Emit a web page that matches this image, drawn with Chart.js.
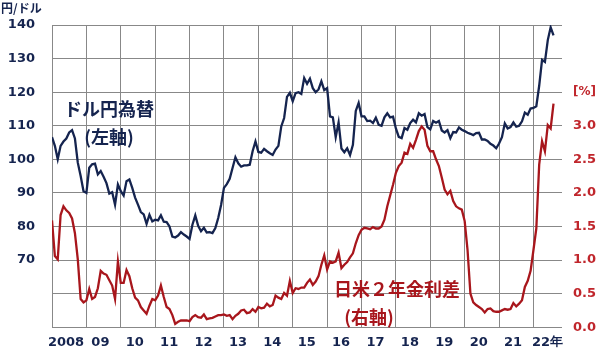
<!DOCTYPE html>
<html>
<head>
<meta charset="utf-8">
<script src="https://cdn.jsdelivr.net/npm/chart.js@4.4.0/dist/chart.umd.min.js"></script>
<style>
  html, body { margin: 0; padding: 0; background: #fff; }
  #wrap { width: 600px; height: 352px; }
</style>
</head>
<body>
<div id="wrap"><canvas id="fxChart" width="600" height="352"></canvas></div>
<script>
// monthly data, Jan 2008 - Aug 2022
const startYear = 2008;
const yearTicks = [2008, 2009, 2010, 2011, 2012, 2013, 2014, 2015, 2016, 2017, 2018, 2019, 2020, 2021, 2022];
const yearLabels = ["2008", "09", "10", "11", "12", "13", "14", "15", "16", "17", "18", "19", "20", "21", "22年"];
const leftTickLabels = [70, 80, 90, 100, 110, 120, 130, 140];
const rightTickLabels = [0, 0.5, 1, 1.5, 2, 2.5, 3];

// ドル円 (円/ドル)
const usdJpy = [
  106.6, 104.0, 100.0, 104.0, 105.3, 106.2, 108.0, 108.7, 106.2, 99.0, 95.0, 90.5,
  90.0, 97.5, 98.5, 98.7, 95.5, 96.5, 94.8, 92.9, 89.8, 90.2, 86.5, 92.5,
  90.5, 89.2, 93.5, 94.0, 91.5, 88.6, 86.5, 84.3, 83.6, 80.8, 83.5, 81.5,
  82.0, 81.8, 83.3, 81.4, 81.3, 80.0, 77.0, 76.7, 77.3, 78.3, 77.6, 77.0,
  76.3, 80.5, 83.3, 80.2, 78.6, 79.6, 78.2, 78.3, 78.0, 79.5, 82.5, 86.4,
  91.5, 92.6, 94.2, 97.4, 100.6, 98.8, 97.8, 98.2, 98.2, 98.4, 102.4, 105.3,
  102.2, 102.0, 103.1, 102.4, 101.8, 101.3, 102.9, 104.0, 109.8, 112.3, 118.6, 119.8,
  117.3, 119.7, 120.0, 119.5, 124.2, 122.5, 124.0, 121.2, 120.0, 120.8, 123.2, 120.6,
  121.2, 112.8, 112.5, 106.6, 111.0, 103.2, 102.1, 103.3, 101.3, 104.3, 114.4, 116.8,
  112.8, 112.8, 111.4, 111.5, 110.8, 112.4, 110.3, 110.0, 112.5, 113.7, 112.5, 112.7,
  109.2, 106.7, 106.3, 109.3, 108.8, 110.8, 111.8, 111.0, 113.7, 113.0, 113.5, 109.6,
  108.9, 111.4, 110.9, 111.4, 108.6, 108.0, 108.7, 106.3, 108.1, 108.0, 109.5, 108.8,
  108.4, 107.9, 107.6, 107.2, 107.8, 107.9, 105.9, 105.9, 105.5, 104.6, 104.1, 103.3,
  104.7, 106.6, 110.7, 109.2, 109.6, 111.0, 109.7, 110.0, 111.3, 113.9, 113.3, 115.1,
  115.3, 115.8, 121.9, 129.6, 129.0, 135.5, 139.3, 136.9
];

// 日米2年金利差 (%)
const rateSpread = [
  1.59, 1.06, 1.01, 1.67, 1.80, 1.74, 1.70, 1.62, 1.40, 1.01, 0.42, 0.37,
  0.40, 0.57, 0.42, 0.45, 0.58, 0.84, 0.80, 0.78, 0.70, 0.62, 0.42, 0.98,
  0.66, 0.66, 0.85, 0.76, 0.58, 0.44, 0.40, 0.30, 0.25, 0.20, 0.32, 0.42,
  0.40, 0.47, 0.62, 0.45, 0.30, 0.27, 0.18, 0.05, 0.08, 0.10, 0.10, 0.10,
  0.09, 0.15, 0.18, 0.15, 0.14, 0.19, 0.12, 0.13, 0.14, 0.16, 0.18, 0.18,
  0.19, 0.17, 0.18, 0.12, 0.17, 0.20, 0.25, 0.26, 0.21, 0.22, 0.27, 0.23,
  0.30, 0.28, 0.29, 0.35, 0.31, 0.33, 0.47, 0.44, 0.42, 0.51, 0.47, 0.69,
  0.51, 0.58, 0.57, 0.59, 0.59, 0.66, 0.71, 0.63, 0.68, 0.76, 0.93, 1.07,
  0.86, 0.98, 0.96, 0.98, 1.11, 0.88, 0.93, 0.97, 1.04, 1.10, 1.25, 1.37,
  1.45, 1.48, 1.47, 1.46, 1.49, 1.47, 1.47, 1.50, 1.60, 1.80, 1.96, 2.12,
  2.30, 2.40, 2.45, 2.60, 2.58, 2.73, 2.67, 2.79, 2.92, 2.99, 2.94, 2.70,
  2.62, 2.62, 2.50, 2.40, 2.23, 2.05, 1.98, 2.03, 1.88, 1.80, 1.77, 1.75,
  1.58, 1.15, 0.50, 0.37, 0.33, 0.30, 0.27, 0.22, 0.27, 0.28, 0.24, 0.23,
  0.23, 0.25, 0.27, 0.26, 0.27, 0.36, 0.31, 0.35, 0.40, 0.60, 0.69, 0.84,
  1.15, 1.47, 2.42, 2.77, 2.62, 3.01, 2.96, 3.33
];

const navy = "#15244f";
const darkRed = "#a8161c";
const labelRed = "#c0262c";
const gridColor = "#888888";
const numFont = { family: "'DejaVu Sans', sans-serif", size: 13, weight: "bold" };
const jpFont = "'Noto Sans CJK JP', sans-serif";

const toPoints = (arr) => arr.map((v, i) => ({ x: startYear + i / 12, y: v }));

// text labels on the plot
const notesPlugin = {
  id: "notes",
  afterDraw(chart) {
    const ctx = chart.ctx;
    ctx.save();
    ctx.textBaseline = "middle";
    ctx.fillStyle = navy;
    ctx.font = "bold 12px " + jpFont;
    ctx.textAlign = "left";
    ctx.fillText("円/ドル", 1, 8);

    ctx.font = "bold 18px " + jpFont;
    ctx.textAlign = "center";
    ctx.fillText("ドル円為替", 109, 109);
    ctx.fillText("(左軸)", 109, 137);

    ctx.fillStyle = darkRed;
    ctx.fillText("日米２年金利差", 397, 289);
    ctx.fillText("(右軸)", 369, 317);
    ctx.restore();
  }
};

new Chart(document.getElementById("fxChart"), {
  type: "line",
  data: {
    datasets: [
      {
        label: "ドル円為替",
        data: toPoints(usdJpy),
        yAxisID: "y",
        borderColor: navy,
        borderWidth: 2.3,
        pointRadius: 0,
        tension: 0
      },
      {
        label: "日米2年金利差",
        data: toPoints(rateSpread),
        yAxisID: "y2",
        borderColor: darkRed,
        borderWidth: 2.3,
        pointRadius: 0,
        tension: 0
      }
    ]
  },
  options: {
    responsive: false,
    animation: false,
    devicePixelRatio: 1,
    layout: { padding: { top: 25, left: 0, right: 0, bottom: 0 } },
    plugins: { legend: { display: false }, tooltip: { enabled: false } },
    scales: {
      x: {
        type: "linear",
        min: 2008,
        max: 2022.83,
        afterBuildTicks: (axis) => {
          axis.ticks = yearTicks.map((v) => ({ value: v }));
        },
        afterFit: (axis) => { axis.height = 20; },
        ticks: {
          callback: (v) => yearLabels[yearTicks.indexOf(v)],
          labelOffset: 14,
          padding: 8,
          autoSkip: false,
          maxRotation: 0,
          color: navy,
          font: numFont
        },
        grid: { color: gridColor, lineWidth: 1, drawTicks: false },
        border: { display: false }
      },
      y: {
        position: "left",
        min: 50,
        max: 140,
        afterFit: (axis) => { axis.width = 52; },
        ticks: {
          stepSize: 10,
          padding: 17,
          color: navy,
          font: numFont,
          callback: (v) => (leftTickLabels.includes(v) ? v : "")
        },
        grid: { color: gridColor, lineWidth: 1, drawTicks: false },
        border: { display: false }
      },
      y2: {
        position: "right",
        min: 0,
        max: 4.5,
        afterFit: (axis) => { axis.width = 38; },
        ticks: {
          stepSize: 0.5,
          padding: 11,
          color: labelRed,
          font: (c) => (c.tick && c.tick.value === 3.5 ? { ...numFont, size: 12 } : numFont),
          callback: (v) => {
            if (rightTickLabels.includes(v)) return v.toFixed(1);
            if (v === 3.5) return "[%]";
            return "";
          }
        },
        grid: { display: false, drawTicks: false },
        border: { display: false }
      }
    }
  },
  plugins: [notesPlugin]
});
</script>
</body>
</html>
